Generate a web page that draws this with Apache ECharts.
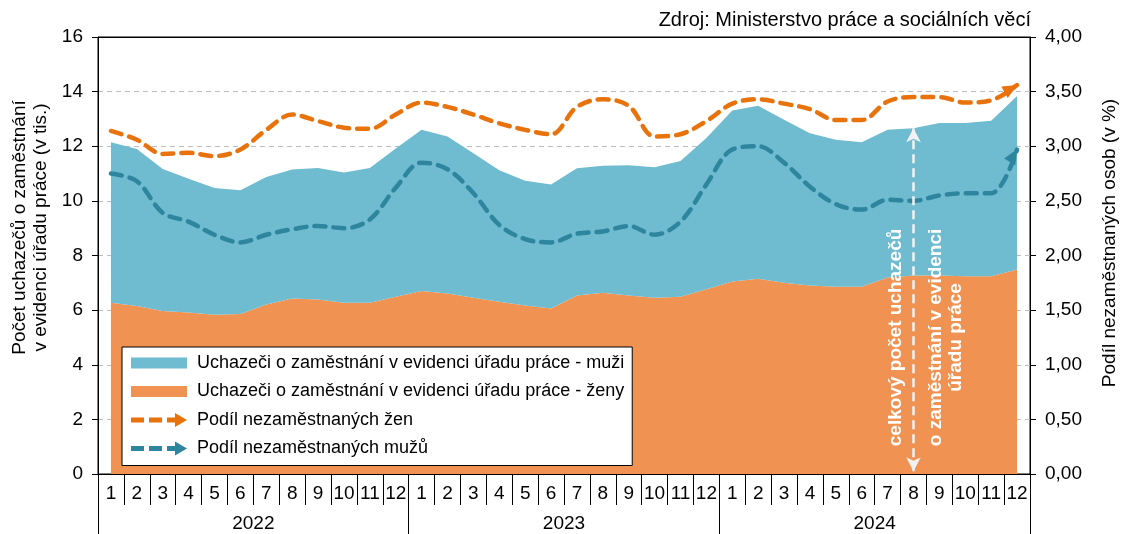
<!DOCTYPE html>
<html>
<head>
<meta charset="utf-8">
<script src="https://cdn.jsdelivr.net/npm/echarts@6/dist/echarts.min.js"></script>
<style>
  html, body { margin: 0; padding: 0; background: #fff; }
  #graf { width: 1127px; height: 534px; }
</style>
</head>
<body>
<div id="graf"></div>
<script>
// osa x - roky a mesice
const roky = ['2022', '2023', '2024'];
const mesice = ['1', '2', '3', '4', '5', '6', '7', '8', '9', '10', '11', '12'];

// uchazeci v evidenci (v tis.)
const zenyTis = [6.27, 6.15, 5.97, 5.91, 5.83, 5.86, 6.21, 6.43, 6.39, 6.27, 6.27, 6.49,
                 6.70, 6.61, 6.45, 6.31, 6.17, 6.06, 6.54, 6.64, 6.54, 6.45, 6.49, 6.76,
                 7.05, 7.15, 7.00, 6.90, 6.86, 6.86, 7.19, 7.27, 7.27, 7.24, 7.24, 7.49];
const muziTis = [5.88, 5.75, 5.20, 4.90, 4.64, 4.53, 4.66, 4.72, 4.81, 4.77, 4.93, 5.43,
                 5.90, 5.75, 5.29, 4.81, 4.57, 4.54, 4.65, 4.65, 4.76, 4.78, 4.97, 5.54,
                 6.26, 6.33, 5.97, 5.58, 5.38, 5.29, 5.41, 5.39, 5.58, 5.61, 5.69, 6.35];

// podil nezamestnanych osob (v %)
const podilZen = [3.14, 3.06, 2.93, 2.94, 2.91, 2.97, 3.15, 3.29, 3.23, 3.17, 3.16, 3.29,
                  3.40, 3.36, 3.29, 3.21, 3.15, 3.11, 3.36, 3.43, 3.37, 3.09, 3.11, 3.23,
                  3.39, 3.43, 3.39, 3.34, 3.24, 3.24, 3.41, 3.45, 3.45, 3.40, 3.42, 3.56];
const podilMuzu = [2.75, 2.68, 2.39, 2.31, 2.19, 2.12, 2.19, 2.24, 2.27, 2.25, 2.33, 2.62,
                   2.85, 2.79, 2.57, 2.28, 2.15, 2.12, 2.20, 2.22, 2.27, 2.19, 2.31, 2.65,
                   2.97, 3.00, 2.85, 2.63, 2.47, 2.42, 2.51, 2.50, 2.55, 2.57, 2.57, 2.97];

const osaLevaTicks = [0, 16, 2];
const osaPravaTicks = [0, 4, 0.5];

const kategorie = [];
roky.forEach(r => mesice.forEach(m => kategorie.push(r + '-' + m)));

const nazevMuzi = 'Uchazeči o zaměstnání v evidenci úřadu práce - muži';
const nazevZeny = 'Uchazeči o zaměstnání v evidenci úřadu práce - ženy';
const nazevPodilZen = 'Podíl nezaměstnaných žen';
const nazevPodilMuzu = 'Podíl nezaměstnaných mužů';

const barvaMuzi = '#6fbbd0';
const barvaZeny = '#f09352';
const barvaCaraZeny = '#e8720c';
const barvaCaraMuzi = '#2e869e';

const font = 'Liberation Sans';
const ikonaPlocha = 'path://M0 0M56 14M0 1.5h56v11h-56z';
const ikonaSipka = 'path://M0 4.5h13v5h-13zM18 4.5h13v5h-13zM36 4.5h10v5h-10zM44 0L56 7L44 14z';

// posledni bod cary se sipkou
function sesSipkou(arr, rot, off) {
    const last = arr.length - 1;
    return arr.map((v, i) => i === last ? {
        value: v, symbol: 'triangle', symbolSize: [13, 15],
        symbolRotate: rot, symbolOffset: off
    } : v);
}

function carkovana(name, data, color, rot, off) {
    return {
        name: name,
        type: 'line',
        yAxisIndex: 1,
        smooth: 0.35,
        symbol: 'none',
        showSymbol: true,
        showAllSymbol: true,
        color: color,
        itemStyle: { color: color },
        lineStyle: { color: color, width: 4.5, type: [11, 8], cap: 'round' },
        data: sesSipkou(data, rot, off),
        z: 4
    };
}

const chart = echarts.init(document.getElementById('graf'));
const option = {
    animation: false,
    textStyle: { fontFamily: font, color: '#000' },
    title: {
        text: 'Zdroj: Ministerstvo práce a sociálních věcí',
        right: 91, top: 5,
        textStyle: { fontFamily: font, fontSize: 20, fontWeight: 'normal', color: '#000' }
    },
    grid: {
        left: 98, right: 94, top: 37, bottom: 60,
        show: true, borderColor: '#000', borderWidth: 1
    },
    legend: {
        orient: 'vertical',
        left: 122, top: 347,
        padding: [6, 8, 7, 9],
        itemGap: 8.5,
        itemWidth: 56, itemHeight: 14,
        backgroundColor: '#fff',
        borderColor: '#000', borderWidth: 1,
        itemStyle: { borderWidth: 0 },
        textStyle: { fontFamily: font, fontSize: 18, lineHeight: 20, color: '#000', padding: [0, 0, 0, 5] },
        data: [
            { name: nazevMuzi, icon: ikonaPlocha },
            { name: nazevZeny, icon: ikonaPlocha },
            { name: nazevPodilZen, icon: ikonaSipka },
            { name: nazevPodilMuzu, icon: ikonaSipka }
        ]
    },
    xAxis: [{
        type: 'category',
        data: kategorie,
        boundaryGap: true,
        axisLine: { show: true, lineStyle: { color: '#000', width: 1 } },
        axisTick: { show: true, interval: 0, length: 31, lineStyle: { color: '#000', width: 1 } },
        axisLabel: {
            interval: 0, margin: 10, fontSize: 19, color: '#000',
            formatter: v => v.split('-')[1]
        }
    }, {
        type: 'category',
        data: roky,
        position: 'bottom',
        boundaryGap: true,
        axisLine: { show: false },
        axisTick: { show: true, interval: 0, length: 60, lineStyle: { color: '#000', width: 1 } },
        axisLabel: { interval: 0, margin: 40, fontSize: 19, color: '#000' }
    }, {
        // horni okraj grafu
        type: 'category',
        data: kategorie,
        position: 'top',
        axisLine: { show: true, lineStyle: { color: '#000', width: 1 } },
        axisTick: { show: false },
        axisLabel: { show: false },
        splitLine: { show: false }
    }],
    yAxis: [{
        type: 'value',
        position: 'left',
        min: osaLevaTicks[0], max: osaLevaTicks[1], interval: osaLevaTicks[2],
        name: 'Počet uchazečů o zaměstnání\nv evidenci úřadu práce (v tis.)',
        nameLocation: 'middle',
        nameRotate: 90,
        nameGap: 47,
        nameTextStyle: { fontSize: 19, lineHeight: 21, color: '#000', padding: [0, 0, 0, 56] },
        axisLine: { show: true, lineStyle: { color: '#000' } },
        axisTick: { show: true, length: 6, lineStyle: { color: '#000' } },
        axisLabel: { fontSize: 19, color: '#000', margin: 15 },
        splitLine: { show: true, lineStyle: { color: '#bdbdbd', type: [5, 4], width: 1 } }
    }, {
        type: 'value',
        position: 'right',
        min: osaPravaTicks[0], max: osaPravaTicks[1], interval: osaPravaTicks[2],
        name: 'Podíl nezaměstnaných osob (v %)',
        nameLocation: 'middle',
        nameRotate: 90,
        nameGap: 70,
        nameTextStyle: { fontSize: 19, color: '#000', padding: [0, 0, 0, 25] },
        axisLine: { show: true, lineStyle: { color: '#000' } },
        axisTick: { show: true, length: 6, lineStyle: { color: '#000' } },
        axisLabel: {
            fontSize: 19, color: '#000', margin: 15,
            formatter: v => v.toFixed(2).replace('.', ',')
        },
        splitLine: { show: false }
    }],
    series: [{
        name: nazevZeny,
        type: 'line',
        stack: 'uchazeci',
        symbol: 'none',
        color: barvaZeny,
        itemStyle: { color: barvaZeny },
        lineStyle: { width: 0 },
        areaStyle: { color: barvaZeny, opacity: 1 },
        data: zenyTis,
        markLine: {
            silent: true,
            symbol: ['arrow', 'arrow'],
            symbolSize: [11, 14],
            label: { show: false },
            lineStyle: { color: '#f2f2f2', width: 2.5, type: [9, 5] },
            data: [[{ coord: [31, 0.1] }, { coord: [31, zenyTis[31] + muziTis[31]] }]]
        }
    }, {
        name: nazevMuzi,
        type: 'line',
        stack: 'uchazeci',
        symbol: 'none',
        color: barvaMuzi,
        itemStyle: { color: barvaMuzi },
        lineStyle: { width: 0 },
        areaStyle: { color: barvaMuzi, opacity: 1 },
        data: muziTis
    },
    carkovana(nazevPodilZen, podilZen, barvaCaraZeny, -61, [-6, 3.5]),
    carkovana(nazevPodilMuzu, podilMuzu, barvaCaraMuzi, -31, [-3.5, 6])
    ]
};
chart.setOption(option);

// popisek u bile sipky
const bod = chart.convertToPixel({ xAxisIndex: 0, yAxisIndex: 0 }, [31, 5]);
chart.setOption({
    graphic: [{
        type: 'text',
        x: bod[0] + 12,
        y: bod[1],
        rotation: Math.PI / 2,
        z: 10,
        style: {
            text: 'celkový počet uchazečů\n\no zaměstnání v evidenci\núřadu práce',
            fill: '#fff',
            font: 'bold 19px "Liberation Sans"',
            lineHeight: 20,
            align: 'center',
            verticalAlign: 'middle'
        }
    }]
});
</script>
</body>
</html>
